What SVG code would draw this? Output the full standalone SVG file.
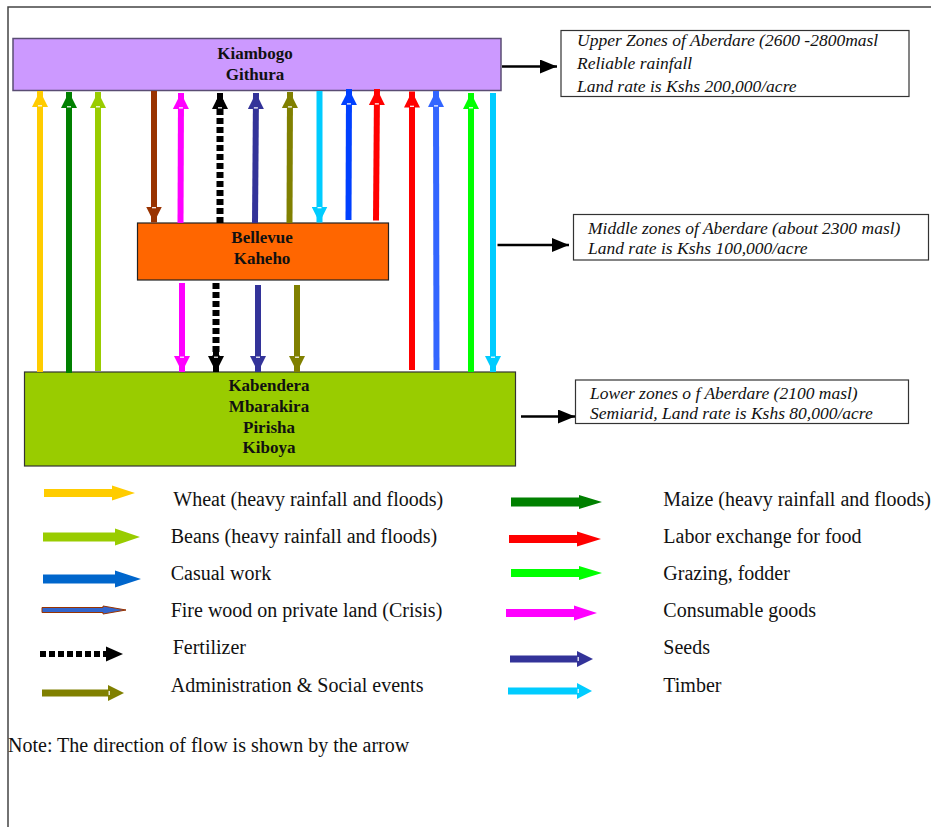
<svg xmlns="http://www.w3.org/2000/svg" width="931" height="827" viewBox="0 0 931 827">
<style>
.frame{fill:none;stroke:#444;stroke-width:1.5}
.b{font-family:"Liberation Serif","Times New Roman",serif;font-weight:bold;font-size:17px;fill:#111;text-anchor:middle}
.i{font-family:"Liberation Serif","Times New Roman",serif;font-style:italic;font-size:17.5px;fill:#111}
.t{font-family:"Liberation Serif","Times New Roman",serif;font-size:20px;fill:#111}
.info{fill:#fff;stroke:#333;stroke-width:1.2}
.v{fill:none;stroke-width:6}
.dot{fill:none;stroke:#000;stroke-width:7;stroke-dasharray:6 3}
.k{fill:none;stroke:#000;stroke-width:2.5}
.notch{stroke:#fff;stroke-width:1.2}
</style>
<defs>
<marker id="m-yellow" markerUnits="userSpaceOnUse" markerWidth="16" markerHeight="16" viewBox="0 0 16 16" refX="16" refY="8" orient="auto"><path d="M0,0L16,8L0,16Z" fill="#FFCC00"/><line class="notch" x1="1.2" y1="6" x2="1.2" y2="10"/></marker>
<marker id="m-green" markerUnits="userSpaceOnUse" markerWidth="16" markerHeight="16" viewBox="0 0 16 16" refX="16" refY="8" orient="auto"><path d="M0,0L16,8L0,16Z" fill="#008000"/><line class="notch" x1="1.2" y1="6" x2="1.2" y2="10"/></marker>
<marker id="m-yg" markerUnits="userSpaceOnUse" markerWidth="16" markerHeight="16" viewBox="0 0 16 16" refX="16" refY="8" orient="auto"><path d="M0,0L16,8L0,16Z" fill="#99CC00"/><line class="notch" x1="1.2" y1="6" x2="1.2" y2="10"/></marker>
<marker id="m-brown" markerUnits="userSpaceOnUse" markerWidth="16" markerHeight="16" viewBox="0 0 16 16" refX="16" refY="8" orient="auto"><path d="M0,0L16,8L0,16Z" fill="#993300"/><line class="notch" x1="1.2" y1="6" x2="1.2" y2="10"/></marker>
<marker id="m-magenta" markerUnits="userSpaceOnUse" markerWidth="16" markerHeight="16" viewBox="0 0 16 16" refX="16" refY="8" orient="auto"><path d="M0,0L16,8L0,16Z" fill="#FF00FF"/><line class="notch" x1="1.2" y1="6" x2="1.2" y2="10"/></marker>
<marker id="m-black" markerUnits="userSpaceOnUse" markerWidth="16" markerHeight="16" viewBox="0 0 16 16" refX="16" refY="8" orient="auto"><path d="M0,0L16,8L0,16Z" fill="#000"/><line class="notch" x1="1.2" y1="6" x2="1.2" y2="10"/></marker>
<marker id="m-navy" markerUnits="userSpaceOnUse" markerWidth="16" markerHeight="16" viewBox="0 0 16 16" refX="16" refY="8" orient="auto"><path d="M0,0L16,8L0,16Z" fill="#333399"/><line class="notch" x1="1.2" y1="6" x2="1.2" y2="10"/></marker>
<marker id="m-olive" markerUnits="userSpaceOnUse" markerWidth="16" markerHeight="16" viewBox="0 0 16 16" refX="16" refY="8" orient="auto"><path d="M0,0L16,8L0,16Z" fill="#808000"/><line class="notch" x1="1.2" y1="6" x2="1.2" y2="10"/></marker>
<marker id="m-cyan" markerUnits="userSpaceOnUse" markerWidth="16" markerHeight="16" viewBox="0 0 16 16" refX="16" refY="8" orient="auto"><path d="M0,0L16,8L0,16Z" fill="#00CCFF"/><line class="notch" x1="1.2" y1="6" x2="1.2" y2="10"/></marker>
<marker id="m-blue" markerUnits="userSpaceOnUse" markerWidth="16" markerHeight="16" viewBox="0 0 16 16" refX="16" refY="8" orient="auto"><path d="M0,0L16,8L0,16Z" fill="#0040FF"/><line class="notch" x1="1.2" y1="6" x2="1.2" y2="10"/></marker>
<marker id="m-red" markerUnits="userSpaceOnUse" markerWidth="16" markerHeight="16" viewBox="0 0 16 16" refX="16" refY="8" orient="auto"><path d="M0,0L16,8L0,16Z" fill="#FF0000"/><line class="notch" x1="1.2" y1="6" x2="1.2" y2="10"/></marker>
<marker id="m-blue2" markerUnits="userSpaceOnUse" markerWidth="16" markerHeight="16" viewBox="0 0 16 16" refX="16" refY="8" orient="auto"><path d="M0,0L16,8L0,16Z" fill="#3366FF"/><line class="notch" x1="1.2" y1="6" x2="1.2" y2="10"/></marker>
<marker id="m-lime" markerUnits="userSpaceOnUse" markerWidth="16" markerHeight="16" viewBox="0 0 16 16" refX="16" refY="8" orient="auto"><path d="M0,0L16,8L0,16Z" fill="#00FF00"/><line class="notch" x1="1.2" y1="6" x2="1.2" y2="10"/></marker>
<marker id="m-k" markerUnits="userSpaceOnUse" markerWidth="17" markerHeight="14" viewBox="0 0 17 14" refX="17" refY="7" orient="auto"><path d="M0,0L17,7L0,14Z" fill="#000"/></marker>
</defs>

<rect width="931" height="827" fill="#fff"/>
<path class="frame" d="M8,827V7H931"/>

<g id="node-kiambogo">
<rect x="13" y="38.5" width="488" height="52" fill="#CC99FF" stroke="#5a4d73" stroke-width="1.5"/>
<text class="b" x="255" y="58.5">Kiambogo</text>
<text class="b" x="255" y="80">Githura</text>
</g>

<g id="node-bellevue">
<rect x="137.5" y="223" width="251" height="57" fill="#FF6600" stroke="#222" stroke-width="1.2"/>
<text class="b" x="262" y="242.5">Bellevue</text>
<text class="b" x="262" y="263.5">Kaheho</text>
</g>

<g id="node-kabendera">
<rect x="24.5" y="372" width="491" height="94" fill="#99CC00" stroke="#333" stroke-width="1.2"/>
<text class="b" x="269" y="391">Kabendera</text>
<text class="b" x="269" y="412">Mbarakira</text>
<text class="b" x="269" y="432.5">Pirisha</text>
<text class="b" x="269" y="453">Kiboya</text>
</g>

<g id="node-upper-info">
<rect class="info" x="561" y="30.5" width="348" height="66"/>
<text class="i" x="577" y="46">Upper Zones of Aberdare (2600 -2800masl</text>
<text class="i" x="577" y="69">Reliable rainfall</text>
<text class="i" x="577" y="91.5">Land rate is Kshs 200,000/acre</text>
</g>

<g id="node-middle-info">
<rect class="info" x="573.5" y="214.5" width="355" height="45.5"/>
<text class="i" x="588" y="234">Middle zones of Aberdare (about 2300 masl)</text>
<text class="i" x="588" y="253.5">Land rate is Kshs 100,000/acre</text>
</g>

<g id="node-lower-info">
<rect class="info" x="575.5" y="380" width="333" height="43.5"/>
<text class="i" x="590" y="399">Lower zones o f Aberdare (2100 masl)</text>
<text class="i" x="590" y="419">Semiarid, Land  rate is Kshs 80,000/acre</text>
</g>

<g id="connectors">
<!-- lower to top -->
<line class="v" stroke="#FFCC00" x1="40" y1="372" x2="40" y2="91" marker-end="url(#m-yellow)"/>
<line class="v" stroke="#008000" x1="69" y1="373" x2="69" y2="92" marker-end="url(#m-green)"/>
<line class="v" stroke="#99CC00" x1="98" y1="371" x2="98" y2="92" marker-end="url(#m-yg)"/>
<line class="v" stroke="#FF0000" x1="412" y1="370" x2="412" y2="91.5" marker-end="url(#m-red)"/>
<line class="v" stroke="#3366FF" x1="436.5" y1="370" x2="436" y2="91" marker-end="url(#m-blue2)"/>
<line class="v" stroke="#00FF00" x1="471" y1="372" x2="471" y2="93" marker-end="url(#m-lime)"/>
<line class="v" stroke="#00CCFF" x1="493" y1="93" x2="493" y2="372" marker-end="url(#m-cyan)"/>
<!-- top / bellevue -->
<line class="v" stroke="#993300" x1="154" y1="91" x2="154" y2="222.5" marker-end="url(#m-brown)"/>
<line class="v" stroke="#FF00FF" x1="180.5" y1="223" x2="181" y2="93" marker-end="url(#m-magenta)"/>
<line class="dot" x1="220" y1="223" x2="220" y2="100"/>
<line class="v" stroke="#000" x1="220" y1="110" x2="220" y2="93" marker-end="url(#m-black)"/>
<line class="v" stroke="#333399" x1="255" y1="223" x2="256" y2="93" marker-end="url(#m-navy)"/>
<line class="v" stroke="#808000" x1="289.5" y1="223" x2="290" y2="92" marker-end="url(#m-olive)"/>
<line class="v" stroke="#00CCFF" x1="319.5" y1="91" x2="319.5" y2="222.5" marker-end="url(#m-cyan)"/>
<line class="v" stroke="#0040FF" x1="348.5" y1="220" x2="349" y2="89" marker-end="url(#m-blue)"/>
<line class="v" stroke="#FF0000" x1="376" y1="220.5" x2="377" y2="89" marker-end="url(#m-red)"/>
<!-- bellevue to lower -->
<line class="v" stroke="#FF00FF" x1="182" y1="283" x2="182" y2="372" marker-end="url(#m-magenta)"/>
<line class="dot" x1="216" y1="283" x2="216" y2="362"/>
<line class="v" stroke="#000" x1="216" y1="352" x2="216" y2="372" marker-end="url(#m-black)"/>
<line class="v" stroke="#333399" x1="258" y1="285" x2="258" y2="372" marker-end="url(#m-navy)"/>
<line class="v" stroke="#808000" x1="297" y1="285" x2="297" y2="372" marker-end="url(#m-olive)"/>
<!-- to info boxes -->
<line class="k" x1="502" y1="66.5" x2="557" y2="66.5" marker-end="url(#m-k)"/>
<line class="k" x1="497.5" y1="245" x2="569" y2="245" marker-end="url(#m-k)"/>
<line class="k" x1="521" y1="416.5" x2="575" y2="416.5" marker-end="url(#m-k)"/>
</g>

<g id="legend">
<path fill="#FFCC00" d="M44,489H112V485.5L135,493L112,500.5V497H44Z"/>
<text class="t" x="173.3" y="505.5">Wheat (heavy rainfall and floods)</text>
<path fill="#99CC00" d="M43,532.5H115V528.5L140,537L115,545.5V541.5H43Z"/>
<text class="t" x="170.7" y="543">Beans (heavy rainfall and floods)</text>
<path fill="#0066CC" d="M43,574.5H115V570.5L141,579L115,587.5V583.5H43Z"/>
<text class="t" x="170.7" y="580">Casual work</text>
<path fill="#3366CC" stroke="#993300" stroke-width="1" d="M42,607.5H103V606L126,610L103,614V612.5H42Z"/>
<text class="t" x="170.7" y="616.7">Fire wood on private land (Crisis)</text>
<line x1="40" y1="654" x2="108" y2="654" stroke="#000" stroke-width="6" stroke-dasharray="6 3"/>
<path fill="#000" d="M106,646.5L123,654L106,661.5Z"/>
<text class="t" x="172.7" y="654">Fertilizer</text>
<path fill="#808000" d="M42,689.5H108V685L124,693L108,701V696.5H42Z"/>
<line class="notch" x1="109.2" y1="691" x2="109.2" y2="695"/>
<text class="t" x="170.7" y="691.7">Administration &amp; Social events</text>

<path fill="#008000" d="M511,497.5H579V495L602,502L579,509V506.5H511Z"/>
<text class="t" x="663.3" y="506">Maize (heavy rainfall and floods)</text>
<path fill="#FF0000" d="M509,535H577V531.5L601,539L577,546.5V543H509Z"/>
<text class="t" x="663.3" y="543">Labor exchange for food</text>
<path fill="#00FF00" d="M511,569H579V566L602,573L579,580V577H511Z"/>
<text class="t" x="663.3" y="579.5">Grazing, fodder</text>
<path fill="#FF00FF" d="M506,609H574V605.5L597,613L574,620.5V617H506Z"/>
<text class="t" x="663.3" y="617">Consumable goods</text>
<path fill="#333399" d="M510,655.5H577V651L593,659L577,667V662.5H510Z"/>
<line class="notch" x1="578.2" y1="657" x2="578.2" y2="661"/>
<text class="t" x="663.3" y="653.5">Seeds</text>
<path fill="#00CCFF" d="M508,687.5H577V683L592,691L577,699V694.5H508Z"/>
<line class="notch" x1="578.2" y1="689" x2="578.2" y2="693"/>
<text class="t" x="663.3" y="691.7">Timber</text>
</g>

<text class="t" x="8" y="752">Note: The direction of flow is shown by the arrow</text>
</svg>
